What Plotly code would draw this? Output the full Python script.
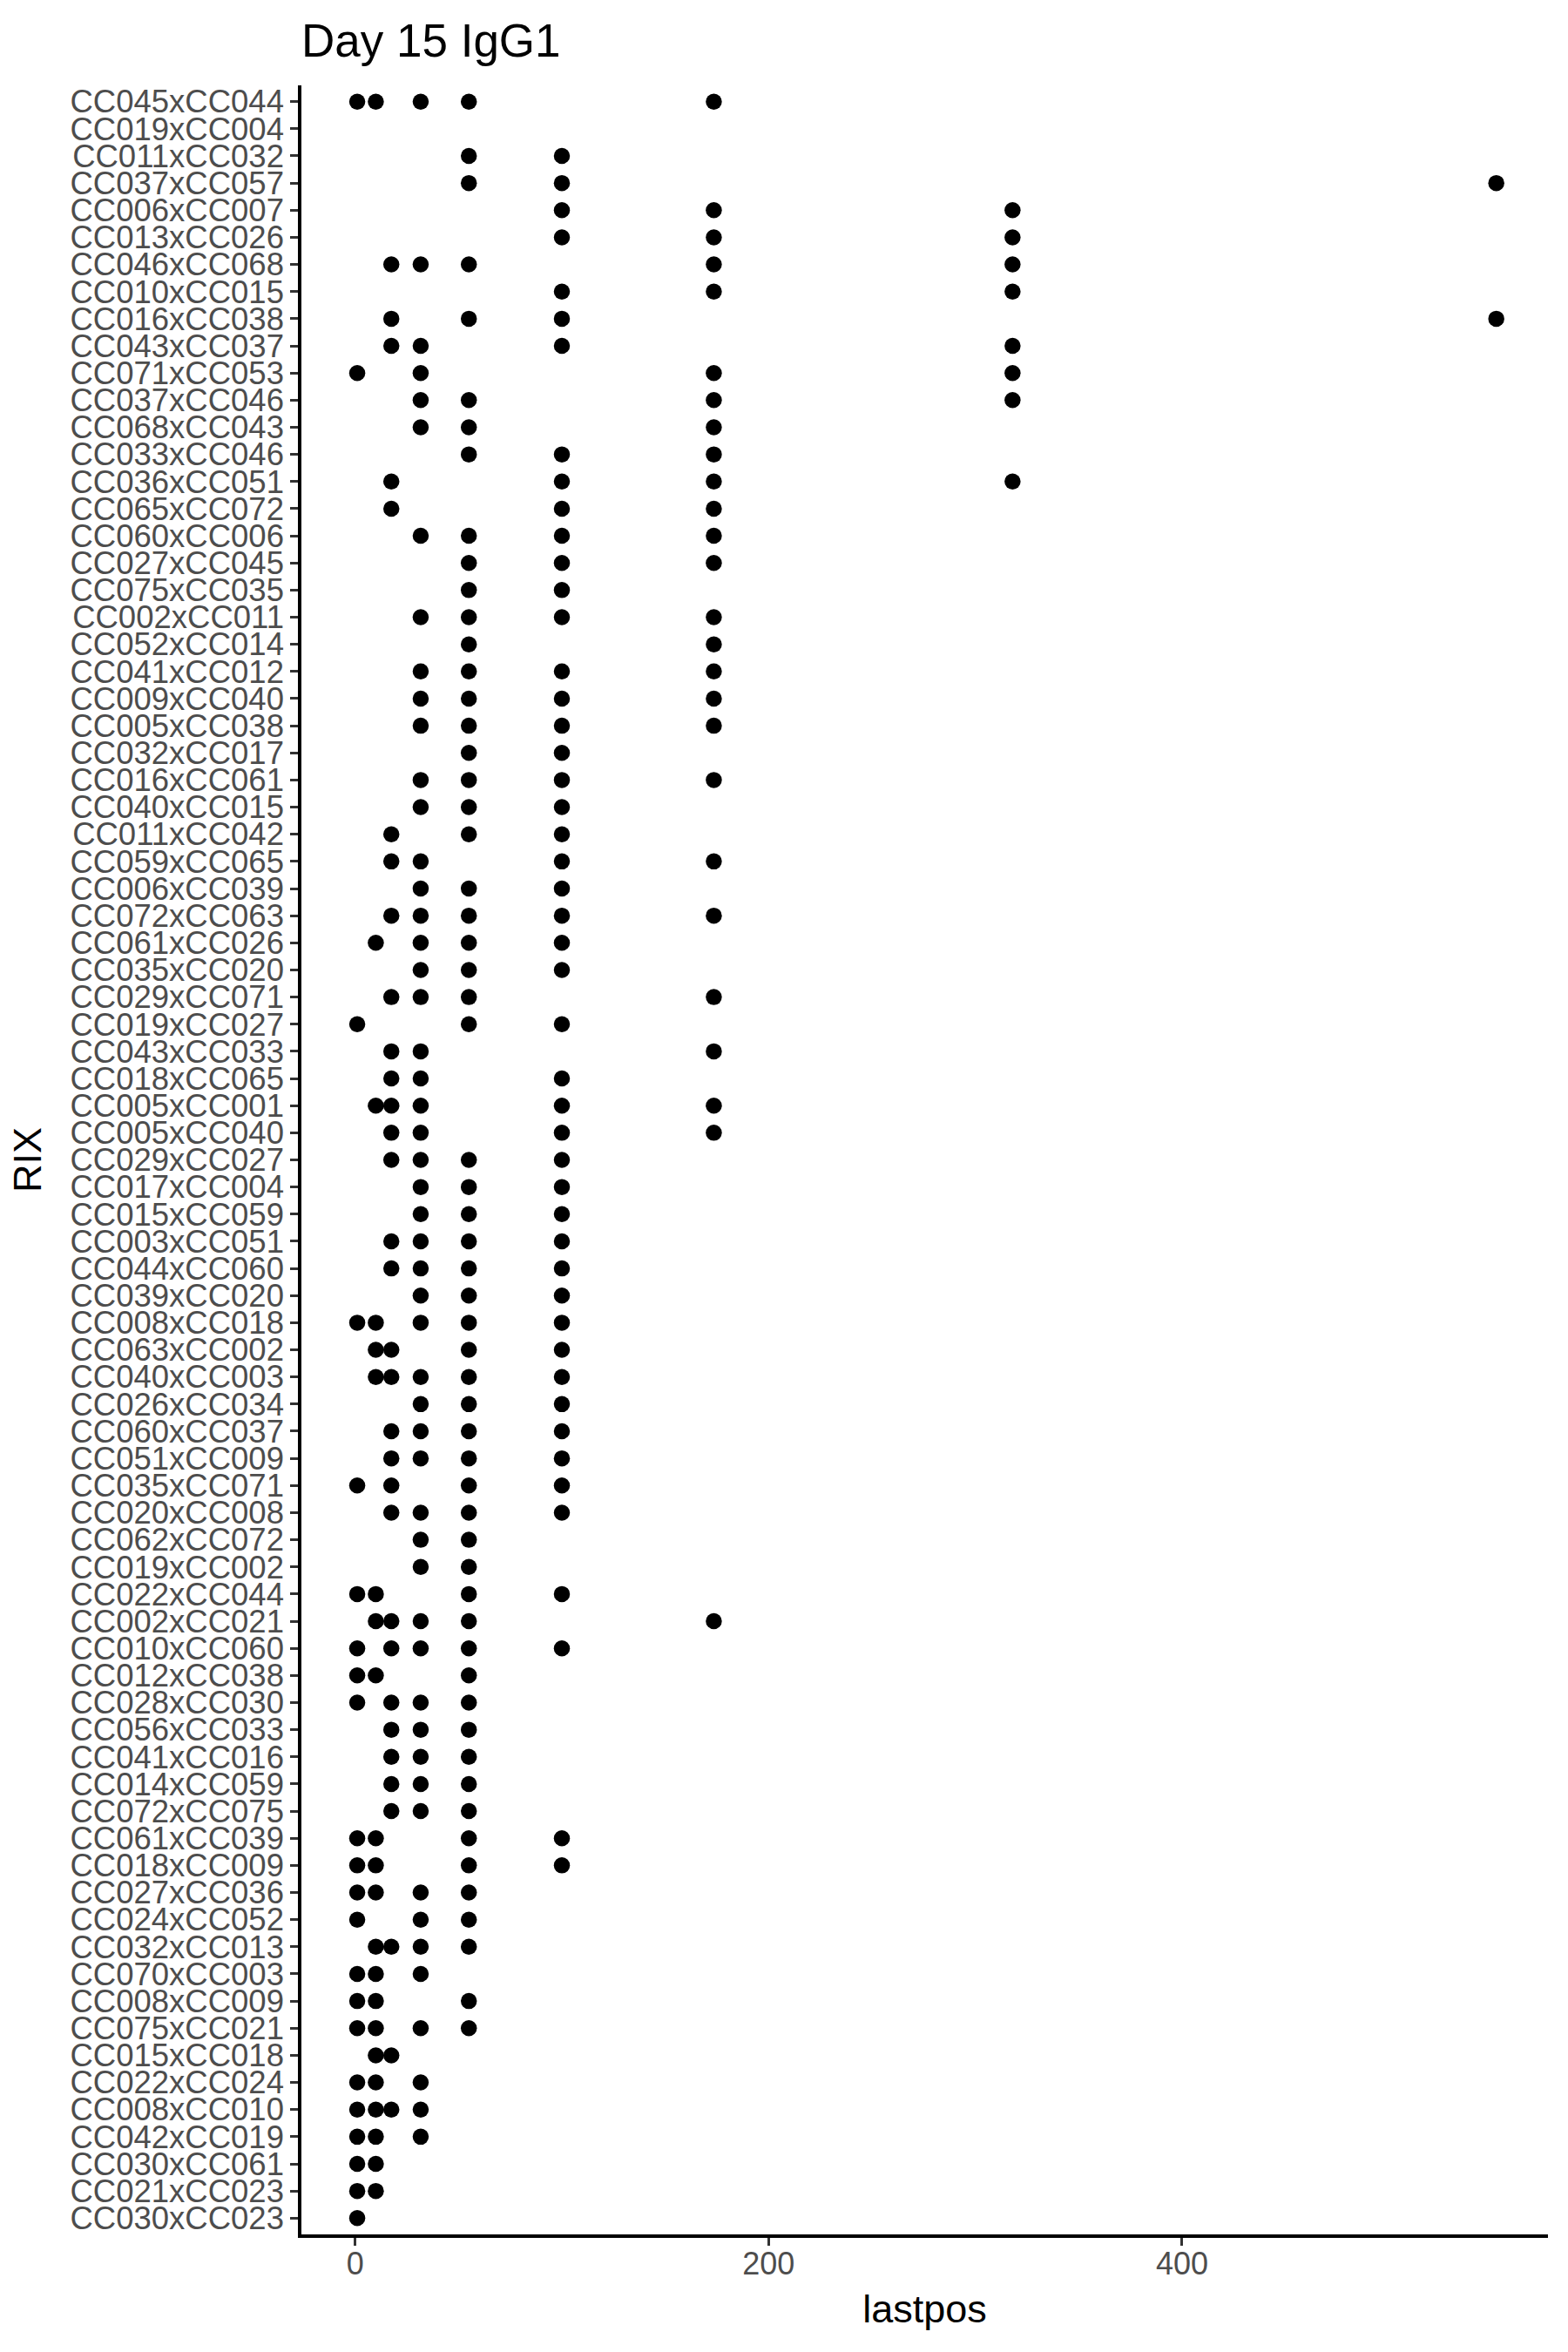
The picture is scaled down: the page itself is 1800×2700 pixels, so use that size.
import plotly.graph_objects as go

# Categories (top to bottom)
rix = [
    "CC045xCC044", "CC019xCC004", "CC011xCC032", "CC037xCC057", "CC006xCC007",
    "CC013xCC026", "CC046xCC068", "CC010xCC015", "CC016xCC038", "CC043xCC037",
    "CC071xCC053", "CC037xCC046", "CC068xCC043", "CC033xCC046", "CC036xCC051",
    "CC065xCC072", "CC060xCC006", "CC027xCC045", "CC075xCC035", "CC002xCC011",
    "CC052xCC014", "CC041xCC012", "CC009xCC040", "CC005xCC038", "CC032xCC017",
    "CC016xCC061", "CC040xCC015", "CC011xCC042", "CC059xCC065", "CC006xCC039",
    "CC072xCC063", "CC061xCC026", "CC035xCC020", "CC029xCC071", "CC019xCC027",
    "CC043xCC033", "CC018xCC065", "CC005xCC001", "CC005xCC040", "CC029xCC027",
    "CC017xCC004", "CC015xCC059", "CC003xCC051", "CC044xCC060", "CC039xCC020",
    "CC008xCC018", "CC063xCC002", "CC040xCC003", "CC026xCC034", "CC060xCC037",
    "CC051xCC009", "CC035xCC071", "CC020xCC008", "CC062xCC072", "CC019xCC002",
    "CC022xCC044", "CC002xCC021", "CC010xCC060", "CC012xCC038", "CC028xCC030",
    "CC056xCC033", "CC041xCC016", "CC014xCC059", "CC072xCC075", "CC061xCC039",
    "CC018xCC009", "CC027xCC036", "CC024xCC052", "CC032xCC013", "CC070xCC003",
    "CC008xCC009", "CC075xCC021", "CC015xCC018", "CC022xCC024", "CC008xCC010",
    "CC042xCC019", "CC030xCC061", "CC021xCC023", "CC030xCC023",
]

# lastpos values observed for each RIX (same order as rix)
lastpos = [
    [1, 10, 31.7, 55, 173.5],
    [],
    [55, 100],
    [55, 100, 552],
    [100, 173.5, 318],
    [100, 173.5, 318],
    [17.5, 31.7, 55, 173.5, 318],
    [100, 173.5, 318],
    [17.5, 55, 100, 552],
    [17.5, 31.7, 100, 318],
    [1, 31.7, 173.5, 318],
    [31.7, 55, 173.5, 318],
    [31.7, 55, 173.5],
    [55, 100, 173.5],
    [17.5, 100, 173.5, 318],
    [17.5, 100, 173.5],
    [31.7, 55, 100, 173.5],
    [55, 100, 173.5],
    [55, 100],
    [31.7, 55, 100, 173.5],
    [55, 173.5],
    [31.7, 55, 100, 173.5],
    [31.7, 55, 100, 173.5],
    [31.7, 55, 100, 173.5],
    [55, 100],
    [31.7, 55, 100, 173.5],
    [31.7, 55, 100],
    [17.5, 55, 100],
    [17.5, 31.7, 100, 173.5],
    [31.7, 55, 100],
    [17.5, 31.7, 55, 100, 173.5],
    [10, 31.7, 55, 100],
    [31.7, 55, 100],
    [17.5, 31.7, 55, 173.5],
    [1, 55, 100],
    [17.5, 31.7, 173.5],
    [17.5, 31.7, 100],
    [10, 17.5, 31.7, 100, 173.5],
    [17.5, 31.7, 100, 173.5],
    [17.5, 31.7, 55, 100],
    [31.7, 55, 100],
    [31.7, 55, 100],
    [17.5, 31.7, 55, 100],
    [17.5, 31.7, 55, 100],
    [31.7, 55, 100],
    [1, 10, 31.7, 55, 100],
    [10, 17.5, 55, 100],
    [10, 17.5, 31.7, 55, 100],
    [31.7, 55, 100],
    [17.5, 31.7, 55, 100],
    [17.5, 31.7, 55, 100],
    [1, 17.5, 55, 100],
    [17.5, 31.7, 55, 100],
    [31.7, 55],
    [31.7, 55],
    [1, 10, 55, 100],
    [10, 17.5, 31.7, 55, 173.5],
    [1, 17.5, 31.7, 55, 100],
    [1, 10, 55],
    [1, 17.5, 31.7, 55],
    [17.5, 31.7, 55],
    [17.5, 31.7, 55],
    [17.5, 31.7, 55],
    [17.5, 31.7, 55],
    [1, 10, 55, 100],
    [1, 10, 55, 100],
    [1, 10, 31.7, 55],
    [1, 31.7, 55],
    [10, 17.5, 31.7, 55],
    [1, 10, 31.7],
    [1, 10, 55],
    [1, 10, 31.7, 55],
    [10, 17.5],
    [1, 10, 31.7],
    [1, 10, 17.5, 31.7],
    [1, 10, 31.7],
    [1, 10],
    [1, 10],
    [1],
]

x_ticks = [0, 200, 400]

xs, ys = [], []
for name, vals in zip(rix, lastpos):
    for v in vals:
        xs.append(v)
        ys.append(name)

fig = go.Figure(
    go.Scatter(
        x=xs, y=ys, mode="markers",
        marker=dict(color="black", size=18.5, line=dict(width=0)),
        showlegend=False,
        hoverinfo="x+y",
    )
)

FONT = "Liberation Sans, Arial, Helvetica, sans-serif"
n = len(rix)

fig.update_layout(
    width=1800, height=2700,
    paper_bgcolor="white", plot_bgcolor="white",
    margin=dict(l=346, r=23, t=98, b=135),
    font=dict(family=FONT, color="black"),
    title=dict(
        text="Day 15 IgG1",
        font=dict(size=53, color="black", family=FONT),
        x=0, xref="paper", xanchor="left",
        y=1 - 46 / 2700, yref="container", yanchor="middle",
    ),
    xaxis=dict(
        range=[-26, 577],
        tickmode="array", tickvals=x_ticks, ticktext=[str(t) for t in x_ticks],
        ticks="outside", ticklen=9, tickwidth=3, tickcolor="#333333",
        ticklabelstandoff=-10,
        showline=True, linecolor="black", linewidth=3.5,
        showgrid=False, zeroline=False,
        tickfont=dict(size=36, color="#4D4D4D", family=FONT),
        title=dict(text="lastpos", font=dict(size=45, color="black", family=FONT), standoff=18),
        automargin=False,
    ),
    yaxis=dict(
        type="category",
        categoryorder="array", categoryarray=rix,
        tickmode="array", tickvals=rix, ticktext=rix,
        range=[n - 1 + 0.6, -0.6],
        ticks="outside", ticklen=9, tickwidth=3, tickcolor="#333333",
        showline=True, linecolor="black", linewidth=3.5,
        showgrid=False, zeroline=False,
        tickfont=dict(size=36.5, color="#4D4D4D", family=FONT),
        title=dict(text="RIX", font=dict(size=45, color="black", family=FONT), standoff=20),
        automargin=False,
    ),
)

fig.write_html("out.html")
